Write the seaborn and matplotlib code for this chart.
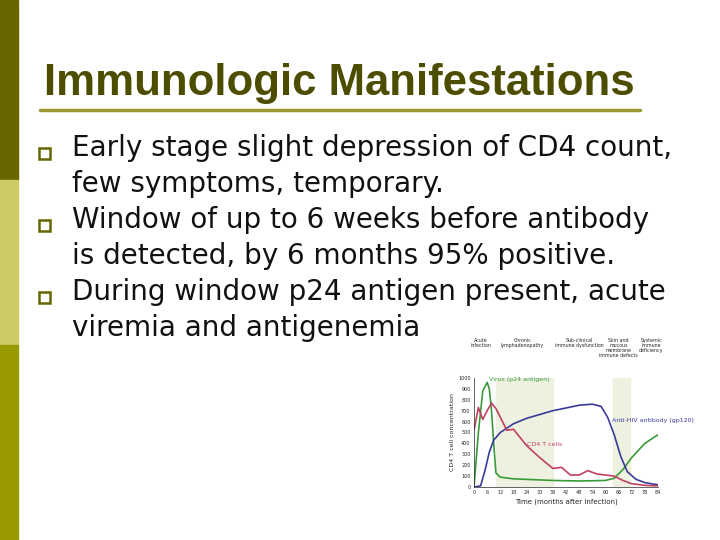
import matplotlib.pyplot as plt
import matplotlib.patches as mpatches
import pandas as pd
import seaborn as sns

# chart data (months after infection)
virus_t = [0, 2, 4, 6, 7, 8, 9, 10, 12, 18, 24, 36, 48, 60, 64, 68, 72, 78, 84]
virus_v = [0, 500, 880, 960, 900, 700, 400, 130, 90, 75, 70, 60, 55, 60, 80, 160, 270, 400, 480]
anti_t = [0, 3, 5, 7, 9, 12, 18, 24, 36, 48, 54, 58, 61, 64, 67, 70, 74, 78, 84]
anti_v = [0, 10, 150, 320, 430, 500, 580, 630, 700, 750, 760, 740, 640, 480, 280, 140, 70, 40, 20]
cd4_t = [0, 2, 4, 6, 8, 10, 12, 15, 18, 24, 30, 36, 40, 44, 48, 52, 56, 60, 64, 68, 72, 78, 84]
cd4_v = [520, 730, 620, 700, 770, 720, 640, 520, 530, 380, 270, 170, 180, 110, 110, 150, 120, 110, 100, 60, 30, 15, 10]
phases = ["Acute\ninfection", "Chronic\nlymphadenopathy", "Sub-clinical\nimmune dysfunction",
          "Skin and\nmucous\nmembrane\nimmune defects", "Systemic\nimmune\ndeficiency"]
phase_x = [3, 22, 48, 66, 81]
bands = [(10, 36), (63.5, 71)]

title = "Immunologic Manifestations"
bullets = [
    ["Early stage slight depression of CD4 count,", "few symptoms, temporary."],
    ["Window of up to 6 weeks before antibody", "is detected, by 6 months 95% positive."],
    ["During window p24 antigen present, acute", "viremia and antigenemia"],
]

sns.set_style("white")
fig = plt.figure(figsize=(7.2, 5.4), dpi=100)
bg = fig.add_axes([0, 0, 1, 1])
bg.set_xlim(0, 720)
bg.set_ylim(540, 0)
bg.axis("off")

# left colour bar
bg.add_patch(mpatches.Rectangle((0, 0), 18, 180, color="#666600"))
bg.add_patch(mpatches.Rectangle((0, 180), 18, 165, color="#cccc66"))
bg.add_patch(mpatches.Rectangle((0, 345), 18, 195, color="#999900"))

bg.text(44, 84, title, fontsize=31.5, fontweight="bold", color="#4d4d00",
        family="Liberation Sans", va="center")
bg.plot([40, 640], [110, 110], color="#999933", lw=2.5)

ys = [148, 220, 292]
for y, lines in zip(ys, bullets):
    bg.add_patch(mpatches.Rectangle((39, y), 11, 11, fill=False, ec="#666600", lw=1.8))
    for i, line in enumerate(lines):
        bg.text(72, y + i * 36, line, fontsize=20, color="#111111",
                family="DejaVu Sans", va="center")

# embedded chart
ax = fig.add_axes([474 / 720, 1 - 487 / 540, 184 / 720, 109 / 540])
for a, b in bands:
    ax.axvspan(a, b, color="#eef0e0", zorder=0)
df = pd.concat([
    pd.DataFrame({"t": virus_t, "v": virus_v, "s": "virus"}),
    pd.DataFrame({"t": anti_t, "v": anti_v, "s": "anti"}),
    pd.DataFrame({"t": cd4_t, "v": cd4_v, "s": "cd4"}),
])
sns.lineplot(data=df, x="t", y="v", hue="s", ax=ax, legend=False, lw=1.2,
             palette={"virus": "#3a9a3a", "anti": "#3a3a9a", "cd4": "#c04060"})
ax.set_xlim(0, 84)
ax.set_ylim(0, 1000)
ax.set_xticks(range(0, 85, 6))
ax.set_yticks(range(0, 1001, 100))
ax.tick_params(labelsize=3.5, length=1, pad=1.5)
ax.set_xlabel("Time (months after infection)", fontsize=5, labelpad=2)
ax.set_ylabel("CD4 T cell concentration", fontsize=4.5, labelpad=2)
for s in ["top", "right"]:
    ax.spines[s].set_visible(False)
for s in ["left", "bottom"]:
    ax.spines[s].set_linewidth(0.5)
ax.text(7, 970, "Virus (p24 antigen)", fontsize=4.5, color="#3a9a3a")
ax.text(63, 600, "Anti-HIV antibody (gp120)", fontsize=4.5, color="#3a3a9a")
ax.text(24, 380, "CD4 T cells", fontsize=4.5, color="#c04060")
for x, p in zip(phase_x, phases):
    ax.text(x, 1370, p, fontsize=3.4, ha="center", va="top", clip_on=False,
            linespacing=1.0)

fig.savefig("out.png", dpi=100)
